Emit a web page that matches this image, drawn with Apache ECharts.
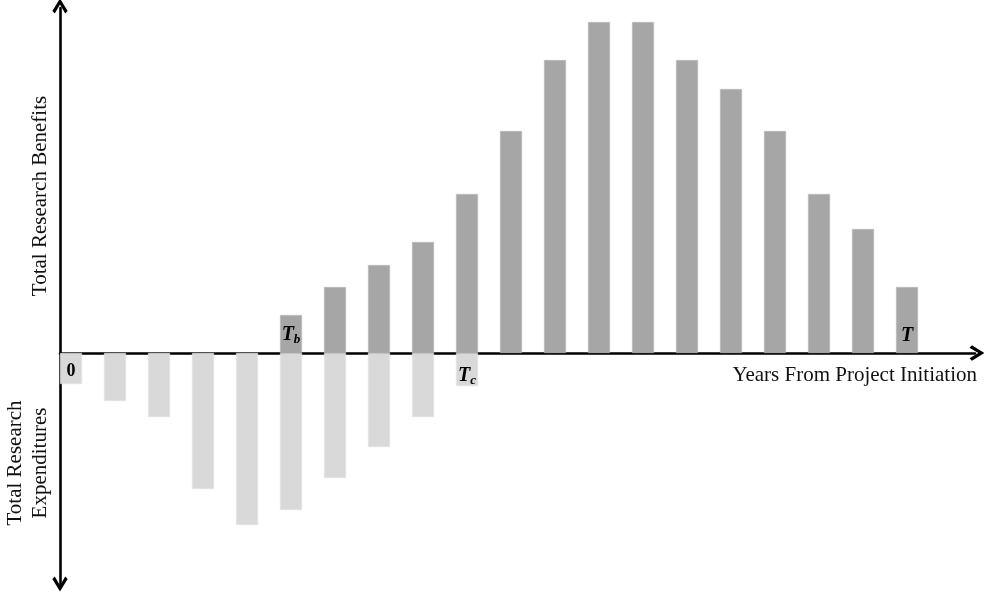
<!DOCTYPE html>
<html>
<head>
<meta charset="utf-8">
<script src="https://cdn.jsdelivr.net/npm/echarts@6/dist/echarts.min.js"></script>
<style>html,body{margin:0;padding:0;background:#fff}#c{width:984px;height:596px}</style>
</head>
<body>
<div id="c"></div>
<script>
// Years from project initiation (index positions)
var years = [0,1,2,3,4,5,6,7,8,9,10,11,12,13,14,15,16,17,18,19];
// Total research benefits (arbitrary units)
var benefits = [null,null,null,null,null,38,66,88,111,159,222,293,331,331,293,264,222,159,124,66];
// Total research expenditures (negative, arbitrary units)
var expenditures = [-31,-48,-64,-136,-172,-157,-125,-94,-64,-33,null,null,null,null,null,null,null,null,null,null];
// Point labels
var benefitLabels = {5: 'Tb', 19: 'T'};
var expLabels = {0: '0', 9: 'Tc'};

var serif = '"Liberation Serif","Times New Roman",serif';
var chevron = 'path://M5,0 L10,8.2 L8.4,9.8 L5,4 L1.6,9.8 L0,8.2 Z';

var rich = {
  t: {fontFamily: serif, fontStyle: 'italic', fontWeight: 'bold', fontSize: 20, color: '#000'},
  s: {fontFamily: serif, fontStyle: 'italic', fontWeight: 'bold', fontSize: 13, color: '#000', verticalAlign: 'bottom', padding: [9, 0, 0, 0]},
  n: {fontFamily: serif, fontWeight: 'bold', fontSize: 18, color: '#000'}
};
function fmtLabel(txt) {
  if (txt === '0') return '{n|0}';
  if (txt === 'T') return '{t|T}';
  return '{t|T}{s|' + txt.charAt(1) + '}';
}

var bData = years.map(function (y, i) {
  var d = {value: [y, benefits[i]]};
  if (benefitLabels[i]) {
    d.label = {show: true, position: 'insideBottom', distance: 7, formatter: fmtLabel(benefitLabels[i]), rich: rich};
  }
  return d;
});
var eData = years.map(function (y, i) {
  var d = {value: [y, expenditures[i]]};
  if (expLabels[i]) {
    d.label = {show: true, position: 'insideTop', distance: expLabels[i] === '0' ? 9 : 12, formatter: fmtLabel(expLabels[i]), rich: rich};
  }
  return d;
});

var chart = echarts.init(document.getElementById('c'), null, {renderer: 'canvas'});
chart.setOption({
  animation: false,
  backgroundColor: '#fff',
  grid: {left: 60, right: 9, top: 8, bottom: 10, containLabel: false},
  xAxis: {
    type: 'value', min: -0.25, max: 20.545,
    axisLine: {show: true, onZero: true, lineStyle: {color: '#000', width: 2.6},
      symbol: ['none', chevron], symbolSize: [16, 15], symbolOffset: [0, 2]},
    axisTick: {show: false}, axisLabel: {show: false}, splitLine: {show: false}
  },
  yAxis: {
    type: 'value', min: -233, max: 345,
    axisLine: {show: true, onZero: false, lineStyle: {color: '#000', width: 2.6},
      symbol: [chevron, chevron], symbolSize: [16, 15], symbolOffset: [2, 2]},
    axisTick: {show: false}, axisLabel: {show: false}, splitLine: {show: false}
  },
  series: [
    {type: 'bar', name: 'Benefits', stack: 'all', barWidth: 22, data: bData,
      itemStyle: {color: '#a6a6a6', borderColor: '#b8b8b8', borderWidth: 0.6}},
    {type: 'bar', name: 'Expenditures', stack: 'all', barWidth: 22, data: eData,
      itemStyle: {color: '#d9d9d9', borderColor: '#e2e2e2', borderWidth: 0.6}}
  ],
  graphic: [
    {type: 'text', x: 977, y: 375, style: {text: 'Years From Project Initiation', font: '21px ' + serif, fill: '#111', align: 'right', verticalAlign: 'middle'}},
    {type: 'text', x: 40, y: 196, rotation: Math.PI / 2, style: {text: 'Total Research Benefits', font: '21px ' + serif, fill: '#111', align: 'center', verticalAlign: 'middle'}},
    {type: 'text', x: 15, y: 463, rotation: Math.PI / 2, style: {text: 'Total Research', font: '21px ' + serif, fill: '#111', align: 'center', verticalAlign: 'middle'}},
    {type: 'text', x: 40, y: 463, rotation: Math.PI / 2, style: {text: 'Expenditures', font: '21px ' + serif, fill: '#111', align: 'center', verticalAlign: 'middle'}}
  ]
});
</script>
</body>
</html>
